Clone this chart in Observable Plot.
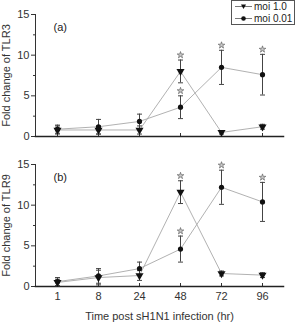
<!DOCTYPE html>
<html>
<head>
<meta charset="utf-8">
<script src="https://cdn.jsdelivr.net/npm/d3@7"></script>
<script src="https://cdn.jsdelivr.net/npm/@observablehq/plot@0.6"></script>
<style>
  body { margin: 0; background: #fff; font-family: "Liberation Sans", Arial, sans-serif; }
  #chart { position: relative; width: 295px; height: 322px; overflow: hidden; }
  #chart > svg { display: block; }
  .legend { position: absolute; left: 231px; top: 0px; width: 62px; height: 23px;
            border: 1px solid #555; background: #fff; font-size: 10px; color: #222; }
  .legend .row { position: absolute; left: 0; height: 11px; line-height: 11px; white-space: nowrap;
                 display: flex; align-items: center; }
  .legend .row svg { display: inline-block; flex: none; }
</style>
</head>
<body>
<div id="chart"></div>
<script>
// Hours after infection
const times = ["1", "8", "24", "48", "72", "96"];

// TLR3 fold change (mean, error) per infection dose
const tlr3Moi1 = [0.8, 0.8, 0.8, 8.0, 0.5, 1.2];
const tlr3Moi1Err = [0.5, 0.5, 0.5, 1.4, 0.2, 0.3];
const tlr3Moi001 = [0.9, 1.2, 1.85, 3.6, 8.5, 7.6];
const tlr3Moi001Err = [0.5, 0.9, 0.9, 1.4, 2.1, 2.5];
const tlr3Moi1Sig = [false, false, false, true, false, false];
const tlr3Moi001Sig = [false, false, false, true, true, true];

// TLR9 fold change (mean, error) per infection dose
const tlr9Moi1 = [0.5, 1.1, 1.35, 11.6, 1.6, 1.4];
const tlr9Moi1Err = [0.4, 0.9, 0.6, 1.4, 0.3, 0.3];
const tlr9Moi001 = [0.6, 1.3, 2.2, 4.6, 12.2, 10.4];
const tlr9Moi001Err = [0.5, 0.9, 0.8, 1.6, 2.1, 2.4];
const tlr9Moi1Sig = [false, false, false, true, false, false];
const tlr9Moi001Sig = [false, false, false, true, true, true];

const yTicks = [0, 5, 10, 15];
const yMinorTicks = [2.5, 7.5, 12.5];
const seriesNames = ["moi 1.0", "moi 0.01"];

// Horizontal cap drawn as a dot symbol (half-width equals r)
const cap = {
  draw(context, size) {
    const w = Math.sqrt(size / Math.PI);
    context.moveTo(-w, 0);
    context.lineTo(w, 0);
  }
};

function rows(series, values, errs, sig) {
  return times.map((t, i) => ({series, t, v: values[i], e: errs[i], sig: sig[i]}));
}

function panel({tag, yLabel, a, b, bottom}) {
  const data = [...a, ...b];
  const tri = data.filter(d => d.series === seriesNames[0]);
  const circ = data.filter(d => d.series === seriesNames[1]);
  const hi = d => d.v + d.e;
  const lo = d => Math.max(0, d.v - d.e);
  return Plot.plot({
    width: 295,
    height: bottom ? 172 : 150,
    marginLeft: 35,
    marginRight: 12,
    marginTop: 14,
    marginBottom: bottom ? 36 : 14,
    style: {fontFamily: "Liberation Sans, Arial, sans-serif", fontSize: "11px", color: "#333"},
    x: {type: "point", domain: times, padding: 0.5},
    y: {domain: [0, 15]},
    marks: [
      Plot.axisY({ticks: yTicks, tickSize: 4, tickPadding: 2, label: yLabel,
                  labelAnchor: "center", labelArrow: "none", labelOffset: 33, fontSize: 11}),
      Plot.axisY({ticks: yMinorTicks, tickSize: 2, tickFormat: () => "", label: null}),
      Plot.axisX({tickSize: -3, tickPadding: 9, fontSize: 11,
                  tickFormat: bottom ? (d => d) : () => "",
                  label: bottom ? "Time post sH1N1 infection (hr)" : null,
                  labelAnchor: "center", labelArrow: "none", labelOffset: 33}),
      Plot.frame({anchor: "left", stroke: "#333", strokeWidth: 1}),
      Plot.frame({anchor: "bottom", stroke: "#222", strokeWidth: 1.5}),
      Plot.line(data, {x: "t", y: "v", z: "series", stroke: "#a8a8a8", strokeWidth: 0.9}),
      Plot.ruleX(data, {x: "t", y1: lo, y2: hi, stroke: "#444", strokeWidth: 1}),
      Plot.dot(data, {x: "t", y: hi, symbol: cap, r: 2.5, stroke: "#444", strokeWidth: 1, fill: "none"}),
      Plot.dot(data, {x: "t", y: lo, symbol: cap, r: 2.5, stroke: "#444", strokeWidth: 1, fill: "none"}),
      Plot.dot(tri, {x: "t", y: "v", symbol: "triangle", rotate: 180, r: 3, fill: "#111", stroke: "none"}),
      Plot.dot(circ, {x: "t", y: "v", symbol: "circle", r: 2.6, fill: "#111", stroke: "none"}),
      Plot.dot(data.filter(d => d.sig), {x: "t", y: hi, dy: -5, symbol: "star",
                        r: 2.1, fill: "#c8c8c8", stroke: "#555", strokeWidth: 0.6}),
      Plot.text([tag], {frameAnchor: "top-left", dx: 18, dy: 9, fontSize: 11, fill: "#222"})
    ]
  });
}

const chart = document.getElementById("chart");
chart.append(panel({
  tag: "(a)", yLabel: "Fold change of TLR3",
  a: rows(seriesNames[0], tlr3Moi1, tlr3Moi1Err, tlr3Moi1Sig),
  b: rows(seriesNames[1], tlr3Moi001, tlr3Moi001Err, tlr3Moi001Sig),
  bottom: false
}));
chart.append(panel({
  tag: "(b)", yLabel: "Fold change of TLR9",
  a: rows(seriesNames[0], tlr9Moi1, tlr9Moi1Err, tlr9Moi1Sig),
  b: rows(seriesNames[1], tlr9Moi001, tlr9Moi001Err, tlr9Moi001Sig),
  bottom: true
}));

// Legend box inside the upper panel
const legend = document.createElement("div");
legend.className = "legend";
seriesNames.forEach((name, i) => {
  const row = document.createElement("div");
  row.className = "row";
  row.style.top = (i === 0 ? 0 : 11.5) + "px";
  const marker = i === 0
    ? '<path d="M9,3.5 L14,3.5 L11.5,8 Z" fill="#111"/>'
    : '<circle cx="11.5" cy="5.5" r="2.3" fill="#111"/>';
  row.innerHTML = '<svg width="22" height="11"><line x1="3" x2="20" y1="5.5" y2="5.5" stroke="#555" stroke-width="0.8"/>' +
    marker + '</svg><span>' + name + '</span>';
  legend.append(row);
});
chart.append(legend);
</script>
</body>
</html>
